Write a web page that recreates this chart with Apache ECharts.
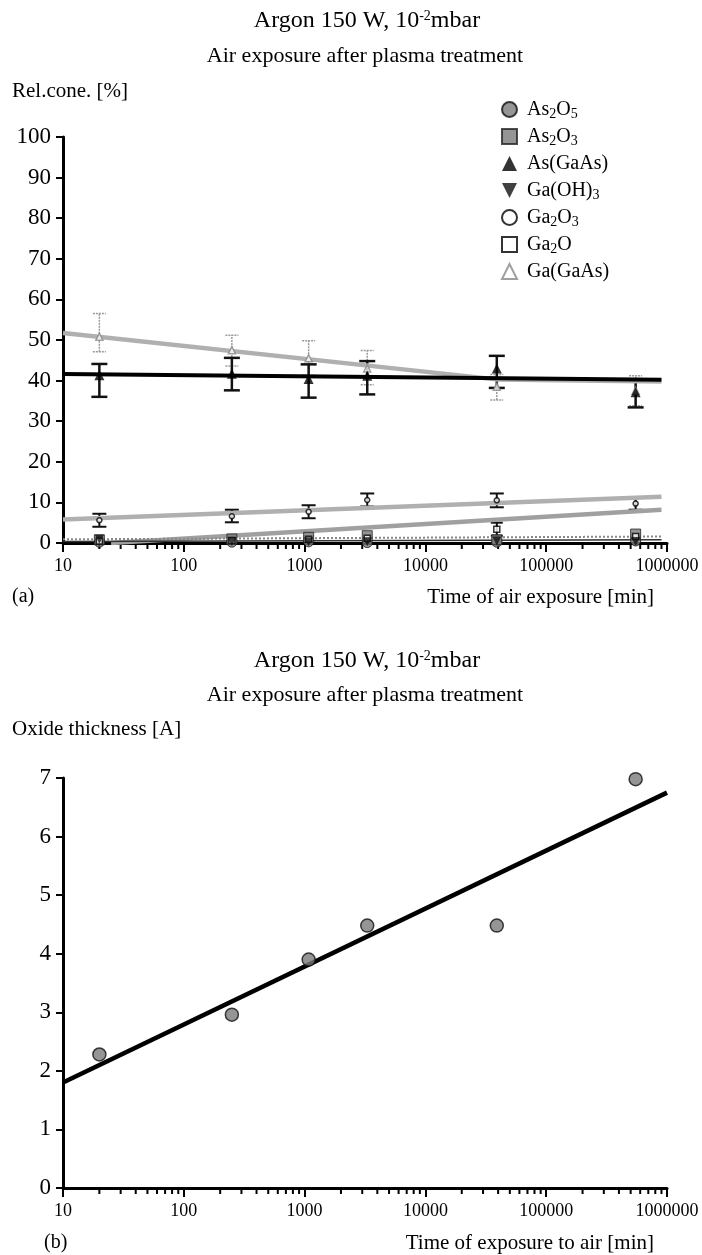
<!DOCTYPE html>
<html>
<head>
<meta charset="utf-8">
<script src="https://cdn.jsdelivr.net/npm/echarts@6/dist/echarts.min.js"></script>
<style>
html,body{margin:0;padding:0;background:#fff}
#main{width:702px;height:1255px}
</style>
</head>
<body>
<div id="main"></div>
<script>
// exposure times [min]
var times = [20, 250, 1080, 3300, 39000, 550000];

// (a) relative concentration [%]
var as2o5 = [0.2, 0.2, 0.3, 0.1, 0.2, 0.5];
var as2o3 = [0.8, 1.0, 1.4, 1.8, 0.8, 2.2];
var asGaAs = [41.3, 41.7, 40.4, 41.2, 43.0, 37.1];
var asGaAsLow = [36.0, 37.6, 35.8, 36.6, 38.2, 33.4];
var asGaAsHigh = [44.1, 45.6, 44.0, 44.8, 46.1, 40.2];
var gaOH3 = [0.9, 0.4, 0.3, 0.3, 0.5, 0.4];
var ga2o3 = [5.6, 6.6, 7.7, 10.6, 10.5, 9.7];
var ga2o3Low = [4.0, 5.1, 6.1, 9.0, 8.8, 8.2];
var ga2o3High = [7.2, 8.2, 9.3, 12.2, 12.2, 11.2];
var ga2o = [0.5, 0.6, 0.9, 1.2, 3.4, 1.6];
var ga2oLow = [null, null, null, null, 1.8, null];
var ga2oHigh = [null, null, null, null, 5.0, null];
var gaGaAs = [50.8, 47.5, 45.5, 43.0, 38.5, 37.5];
var gaGaAsLow = [47.1, 43.6, 41.3, 39.0, 35.2, 33.8];
var gaGaAsHigh = [56.5, 51.2, 49.8, 47.4, 41.5, 41.2];

// fitted lines in (a)
var fitX = [10, 900000];
var fitAsGaAs = [41.6, 40.2];
var fitGa2O3 = [5.8, 11.4];
var fitAs2O3 = [0.9, 1.6];
var fitAs2O5 = [0.4, 0.8];
var fitGaGaAsX = [10, 39000, 900000];
var fitGaGaAs = [51.7, 40.3, 39.8];
var fitGa2OX = [25, 900000];
var fitGa2O = [0, 8.2];

// (b) oxide thickness [A]
var thickness = [2.28, 2.96, 3.9, 4.48, 4.48, 6.98];
var fitThickX = [10, 1000000];
var fitThick = [1.8, 6.75];

// log minor ticks
var minorTicks = [];
[10, 100, 1000, 10000, 100000].forEach(function (d) {
  for (var k = 2; k <= 9; k++) minorTicks.push(d * k);
});

var serif = '"Liberation Serif", "DejaVu Serif", serif';
var gray = '#7a7a7a';
var lightGray = '#b0b0b0';

function pairs(xs, ys) {
  return xs.map(function (x, i) { return [x, ys[i]]; });
}
function bars(lo, hi) {
  var out = [];
  times.forEach(function (t, i) {
    if (lo[i] != null) out.push([t, lo[i], hi[i]]);
  });
  return out;
}

function errorBar(capW, color, width, dash) {
  return function (params, api) {
    var x = api.value(0);
    var lo = api.coord([x, api.value(1)]);
    var hi = api.coord([x, api.value(2)]);
    var st = { stroke: color, lineWidth: width, lineDash: dash || null };
    return {
      type: 'group',
      children: [
        { type: 'line', shape: { x1: lo[0], y1: lo[1], x2: hi[0], y2: hi[1] }, style: st },
        { type: 'line', shape: { x1: lo[0] - capW, y1: lo[1], x2: lo[0] + capW, y2: lo[1] }, style: st },
        { type: 'line', shape: { x1: hi[0] - capW, y1: hi[1], x2: hi[0] + capW, y2: hi[1] }, style: st }
      ]
    };
  };
}

function minorTickItem(params, api) {
  var p = api.coord([api.value(0), 0]);
  return {
    type: 'line',
    shape: { x1: p[0], y1: p[1], x2: p[0], y2: p[1] + 6 },
    style: { stroke: '#000', lineWidth: 2 }
  };
}

function xAxis(idx) {
  return {
    type: 'log', logBase: 10, gridIndex: idx, min: 10, max: 1000000,
    axisLine: { lineStyle: { color: '#000', width: 3 } },
    axisTick: { length: 9, lineStyle: { color: '#000', width: 2 } },
    axisLabel: {
      color: '#000', fontFamily: serif, fontSize: 18, margin: 14,
      formatter: function (v) { return String(Math.round(v)); }
    },
    splitLine: { show: false },
    minorTick: { show: false }
  };
}

function yAxis(idx, max, interval) {
  return {
    type: 'value', gridIndex: idx, min: 0, max: max, interval: interval,
    axisLine: { show: true, lineStyle: { color: '#000', width: 3 } },
    axisTick: { show: true, length: 7, lineStyle: { color: '#000', width: 2 } },
    axisLabel: { color: '#000', fontFamily: serif, fontSize: 23, margin: 12 },
    splitLine: { show: false }
  };
}

var legendNames = ['As2O5', 'As2O3', 'As(GaAs)', 'Ga(OH)3', 'Ga2O3', 'Ga2O', 'Ga(GaAs)'];
var legendRich = {
  'As2O5': 'As{sub|2}O{sub|5}',
  'As2O3': 'As{sub|2}O{sub|3}',
  'As(GaAs)': 'As(GaAs)',
  'Ga(OH)3': 'Ga(OH){sub|3}',
  'Ga2O3': 'Ga{sub|2}O{sub|3}',
  'Ga2O': 'Ga{sub|2}O',
  'Ga(GaAs)': 'Ga(GaAs)'
};

function txt(text, x, y, size, align) {
  return {
    type: 'text', x: x, y: y, silent: true,
    style: {
      text: text, fill: '#000', textAlign: align || 'left', textVerticalAlign: 'middle',
      font: size + 'px ' + serif,
      rich: { sup: { fontSize: 14, lineHeight: 14, verticalAlign: 'top', fontFamily: serif } }
    }
  };
}

var chart = echarts.init(document.getElementById('main'), null, { renderer: 'canvas' });

var option = {
  backgroundColor: '#fff',
  animation: false,
  graphic: [
    txt('Argon 150 W, 10{sup|-2}mbar', 367, 21, 24, 'center'),
    txt('Air exposure after plasma treatment', 365, 56, 22, 'center'),
    txt('Rel.cone. [%]', 12, 91, 21),
    txt('(a)', 12, 597, 20),
    txt('Time of air exposure [min]', 654, 597, 21, 'right'),
    txt('Argon 150 W, 10{sup|-2}mbar', 367, 661, 24, 'center'),
    txt('Air exposure after plasma treatment', 365, 695, 22, 'center'),
    txt('Oxide thickness [A]', 12, 729, 21),
    txt('(b)', 44, 1243, 20),
    txt('Time of exposure to air [min]', 654, 1243, 21, 'right')
  ],
  legend: {
    orient: 'vertical', left: 496, top: 93, itemGap: 4,
    itemWidth: 15, itemHeight: 15,
    data: legendNames,
    formatter: function (n) { return legendRich[n]; },
    textStyle: {
      fontFamily: serif, fontSize: 20, color: '#000', lineHeight: 23, padding: [0, 0, 0, 5],
      rich: { sub: { fontFamily: serif, fontSize: 14, lineHeight: 14, verticalAlign: 'bottom' } }
    }
  },
  grid: [
    { left: 63, right: 35, top: 137, height: 406 },
    { left: 63, right: 35, top: 778, height: 410 }
  ],
  xAxis: [xAxis(0), xAxis(1)],
  yAxis: [yAxis(0, 100, 10), yAxis(1, 7, 1)],
  series: [
    // fitted lines (a)
    { type: 'line', xAxisIndex: 0, yAxisIndex: 0, data: pairs(fitGaGaAsX, fitGaGaAs), showSymbol: false, silent: true,
      lineStyle: { color: lightGray, width: 4.5 } },
    { type: 'line', xAxisIndex: 0, yAxisIndex: 0, data: pairs(fitX, fitGa2O3), showSymbol: false, silent: true,
      lineStyle: { color: lightGray, width: 4.5 } },
    { type: 'line', xAxisIndex: 0, yAxisIndex: 0, data: pairs(fitGa2OX, fitGa2O), showSymbol: false, silent: true,
      lineStyle: { color: '#a0a0a0', width: 4.5 } },
    { type: 'line', xAxisIndex: 0, yAxisIndex: 0, data: pairs(fitX, fitAs2O3), showSymbol: false, silent: true,
      lineStyle: { color: '#888', width: 2, type: 'dotted' } },
    { type: 'line', xAxisIndex: 0, yAxisIndex: 0, data: pairs(fitX, fitAs2O5), showSymbol: false, silent: true,
      lineStyle: { color: '#333', width: 1.5 } },
    { type: 'line', xAxisIndex: 0, yAxisIndex: 0, data: pairs(fitX, fitAsGaAs), showSymbol: false, silent: true,
      lineStyle: { color: '#000', width: 4 } },
    // error bars (a)
    { type: 'custom', xAxisIndex: 0, yAxisIndex: 0, data: bars(gaGaAsLow, gaGaAsHigh), silent: true,
      renderItem: errorBar(6.5, '#9a9a9a', 1.5, [2, 1]), encode: { x: 0, y: [1, 2] }, z: 3 },
    { type: 'custom', xAxisIndex: 0, yAxisIndex: 0, data: bars(asGaAsLow, asGaAsHigh), silent: true,
      renderItem: errorBar(8, '#111', 2.5), encode: { x: 0, y: [1, 2] }, z: 3 },
    { type: 'custom', xAxisIndex: 0, yAxisIndex: 0, data: bars(ga2o3Low, ga2o3High), silent: true,
      renderItem: errorBar(7, '#111', 2), encode: { x: 0, y: [1, 2] }, z: 3 },
    { type: 'custom', xAxisIndex: 0, yAxisIndex: 0, data: bars(ga2oLow, ga2oHigh), silent: true,
      renderItem: errorBar(6, '#111', 2), encode: { x: 0, y: [1, 2] }, z: 3 },
    // points (a)
    { name: 'As2O5', type: 'scatter', xAxisIndex: 0, yAxisIndex: 0, data: pairs(times, as2o5),
      symbol: 'circle', symbolSize: 10, itemStyle: { color: gray, borderColor: '#111', borderWidth: 1 }, z: 4 },
    { name: 'As2O3', type: 'scatter', xAxisIndex: 0, yAxisIndex: 0, data: pairs(times, as2o3),
      symbol: 'rect', symbolSize: 10, itemStyle: { color: gray, borderColor: '#222', borderWidth: 1 }, z: 4 },
    { name: 'As(GaAs)', type: 'scatter', xAxisIndex: 0, yAxisIndex: 0, data: pairs(times, asGaAs),
      symbol: 'triangle', symbolSize: 10, itemStyle: { color: '#000' }, z: 5 },
    { name: 'Ga(OH)3', type: 'scatter', xAxisIndex: 0, yAxisIndex: 0, data: pairs(times, gaOH3),
      symbol: 'path://M0,0L2,0L1,2Z', symbolSize: 9, itemStyle: { color: '#111' }, z: 5 },
    { name: 'Ga2O3', type: 'scatter', xAxisIndex: 0, yAxisIndex: 0, data: pairs(times, ga2o3),
      symbol: 'circle', symbolSize: 5, itemStyle: { color: '#fff', borderColor: '#000', borderWidth: 1.5 }, z: 4 },
    { name: 'Ga2O', type: 'scatter', xAxisIndex: 0, yAxisIndex: 0, data: pairs(times, ga2o),
      symbol: 'rect', symbolSize: 6, itemStyle: { color: '#fff', borderColor: '#000', borderWidth: 1.5 }, z: 4 },
    { name: 'Ga(GaAs)', type: 'scatter', xAxisIndex: 0, yAxisIndex: 0, data: pairs(times, gaGaAs),
      symbol: 'triangle', symbolSize: 7, itemStyle: { color: '#fff', borderColor: '#888', borderWidth: 1.5 }, z: 4 },
    // minor ticks
    { type: 'custom', xAxisIndex: 0, yAxisIndex: 0, data: minorTicks, silent: true,
      renderItem: minorTickItem, encode: { x: 0 } },
    { type: 'custom', xAxisIndex: 1, yAxisIndex: 1, data: minorTicks, silent: true,
      renderItem: minorTickItem, encode: { x: 0 } },
    // (b)
    { type: 'line', xAxisIndex: 1, yAxisIndex: 1, data: pairs(fitThickX, fitThick), showSymbol: false, silent: true,
      lineStyle: { color: '#000', width: 4.5 } },
    { type: 'scatter', xAxisIndex: 1, yAxisIndex: 1, data: pairs(times, thickness),
      symbol: 'circle', symbolSize: 13, itemStyle: { color: gray, borderColor: '#111', borderWidth: 1.5 }, z: 4 }
  ]
};

chart.setOption(option);
</script>
</body>
</html>
